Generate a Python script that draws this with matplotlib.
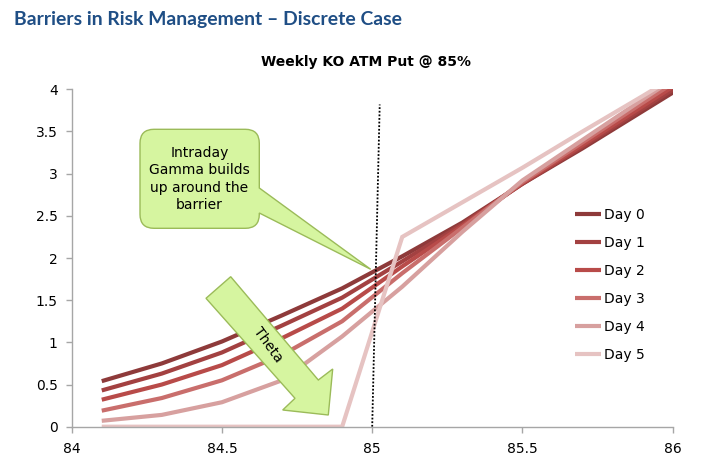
import matplotlib
matplotlib.use("Agg")
import matplotlib.pyplot as plt
import matplotlib.transforms as mtransforms
from matplotlib.path import Path
from matplotlib.patches import PathPatch, Polygon

W, H = 701, 475

# ---- data ----
x = [84.1, 84.3, 84.5, 84.7, 84.9, 85.1, 85.3, 85.5, 85.7, 85.9, 86.1]
day0 = [0.54, 0.75, 1.01, 1.32, 1.64, 2.02, 2.42, 2.88, 3.30, 3.74, 4.18]
day1 = [0.43, 0.63, 0.88, 1.20, 1.53, 1.96, 2.40, 2.88, 3.32, 3.77, 4.22]
day2 = [0.32, 0.50, 0.73, 1.05, 1.40, 1.90, 2.38, 2.89, 3.34, 3.80, 4.26]
day3 = [0.19, 0.34, 0.55, 0.85, 1.25, 1.82, 2.36, 2.90, 3.37, 3.84, 4.30]
day4 = [0.07, 0.14, 0.29, 0.55, 1.07, 1.66, 2.31, 2.92, 3.40, 3.88, 4.35]
day5 = [0.00, 0.00, 0.00, 0.00, 0.00, 2.25, 2.66, 3.07, 3.50, 3.92, 4.35]
series = [day0, day1, day2, day3, day4, day5]
labels = ["Day 0", "Day 1", "Day 2", "Day 3", "Day 4", "Day 5"]
colors = ["#8e3a3a", "#a34141", "#b84b49", "#c96e6c", "#d7a09f", "#e6c3c2"]

barrier_x = [85.0, 85.025]
barrier_y = [0.0, 3.82]

xticks = [84, 84.5, 85, 85.5, 86]
xticklabels = ["84", "84.5", "85", "85.5", "86"]
yticks = [0, 0.5, 1, 1.5, 2, 2.5, 3, 3.5, 4]
yticklabels = ["0", "0.5", "1", "1.5", "2", "2.5", "3", "3.5", "4"]

title = "Barriers in Risk Management \u2013 Discrete Case"
subtitle = "Weekly KO ATM Put @ 85%"
callout_text = "Intraday\nGamma builds\nup around the\nbarrier"
arrow_text = "Theta"

plt.rcParams['font.family'] = 'DejaVu Sans'

fig = plt.figure(figsize=(W / 100, H / 100), dpi=100)
ax = fig.add_axes([71.7 / W, 1 - 426.7 / H, (672.7 - 71.7) / W, (426.7 - 89.3) / H])

for s, lab, c in zip(series, labels, colors):
    ax.plot(x, s, color=c, lw=3.0, label=lab, solid_capstyle='butt', solid_joinstyle='miter')

ax.plot(barrier_x, barrier_y, color='black', lw=1.3, ls=(0, (1, 1)))

ax.set_xlim(84, 86)
ax.set_ylim(0, 4)
ax.set_xticks(xticks)
ax.set_xticklabels(xticklabels)
ax.set_yticks(yticks)
ax.set_yticklabels(yticklabels)
for sp in ['top', 'right']:
    ax.spines[sp].set_visible(False)
for sp in ['left', 'bottom']:
    ax.spines[sp].set_color('#a6a6a6')
    ax.spines[sp].set_linewidth(1.0)
ax.tick_params(axis='both', colors='#a6a6a6', length=4, width=1.0, labelcolor='black', labelsize=10)
ax.tick_params(axis='x', pad=7)
ax.tick_params(axis='y', pad=6)

leg = ax.legend(loc='upper left', bbox_to_anchor=((575 - 71.7) / 601, (426.7 - 207.5) / 337.4),
                frameon=False, borderpad=0, borderaxespad=0, fontsize=10,
                handlelength=1.9, handletextpad=0.2, labelspacing=1.02)

# pixel transform (top-left origin)
pxT = mtransforms.Affine2D().scale(1, -1).translate(0, H)

green_fill = "#d6f5a0"
green_edge = "#9bbb59"

# callout box with pointer
L, R, T, B, r = 140, 259.3, 129.3, 228.3, 14
verts = [(L + r, T), (R - r, T), (R, T), (R, T + r), (R, 188), (370.7, 269.3), (R, 213),
         (R, B - r), (R, B), (R - r, B), (L + r, B), (L, B), (L, B - r), (L, T + r), (L, T), (L + r, T), (L + r, T)]
codes = [Path.MOVETO, Path.LINETO, Path.CURVE3, Path.CURVE3, Path.LINETO, Path.LINETO, Path.LINETO,
         Path.LINETO, Path.CURVE3, Path.CURVE3, Path.LINETO, Path.CURVE3, Path.CURVE3, Path.LINETO,
         Path.CURVE3, Path.CURVE3, Path.CLOSEPOLY]
callout = PathPatch(Path(verts, codes), facecolor=green_fill, edgecolor=green_edge, lw=1.0,
                    transform=pxT, zorder=5)
fig.add_artist(callout)
fig.text(199.5 / W, 1 - 179 / H, callout_text, ha='center', va='center', fontsize=10,
         linespacing=1.3, zorder=6)

# theta block arrow
arrow_pts = [(206, 298.3), (230.7, 276.7), (318.3, 380), (332.7, 369), (328.3, 415), (282.7, 410), (295, 398.3)]
theta = Polygon(arrow_pts, closed=True, facecolor=green_fill, edgecolor=green_edge, lw=1.0,
                transform=pxT, zorder=5)
fig.add_artist(theta)
fig.text(267.5 / W, 1 - 345 / H, arrow_text, ha='center', va='center', fontsize=10,
         rotation=-54, rotation_mode='anchor', zorder=6)

t = fig.text(14 / W, 1 - 19 / H, title, ha='left', va='center', fontsize=15, fontweight='bold',
             color='#1f4e85', family='Lato')
# fit title width to ~389 px
fig.canvas.draw()
wpx = t.get_window_extent().width
t.set_fontsize(15 * 389.0 / wpx)

fig.text(366 / W, 1 - 62 / H, subtitle, ha='center', va='center', fontsize=10, fontweight='bold',
         color='black')

fig.savefig("out.png", dpi=100)
